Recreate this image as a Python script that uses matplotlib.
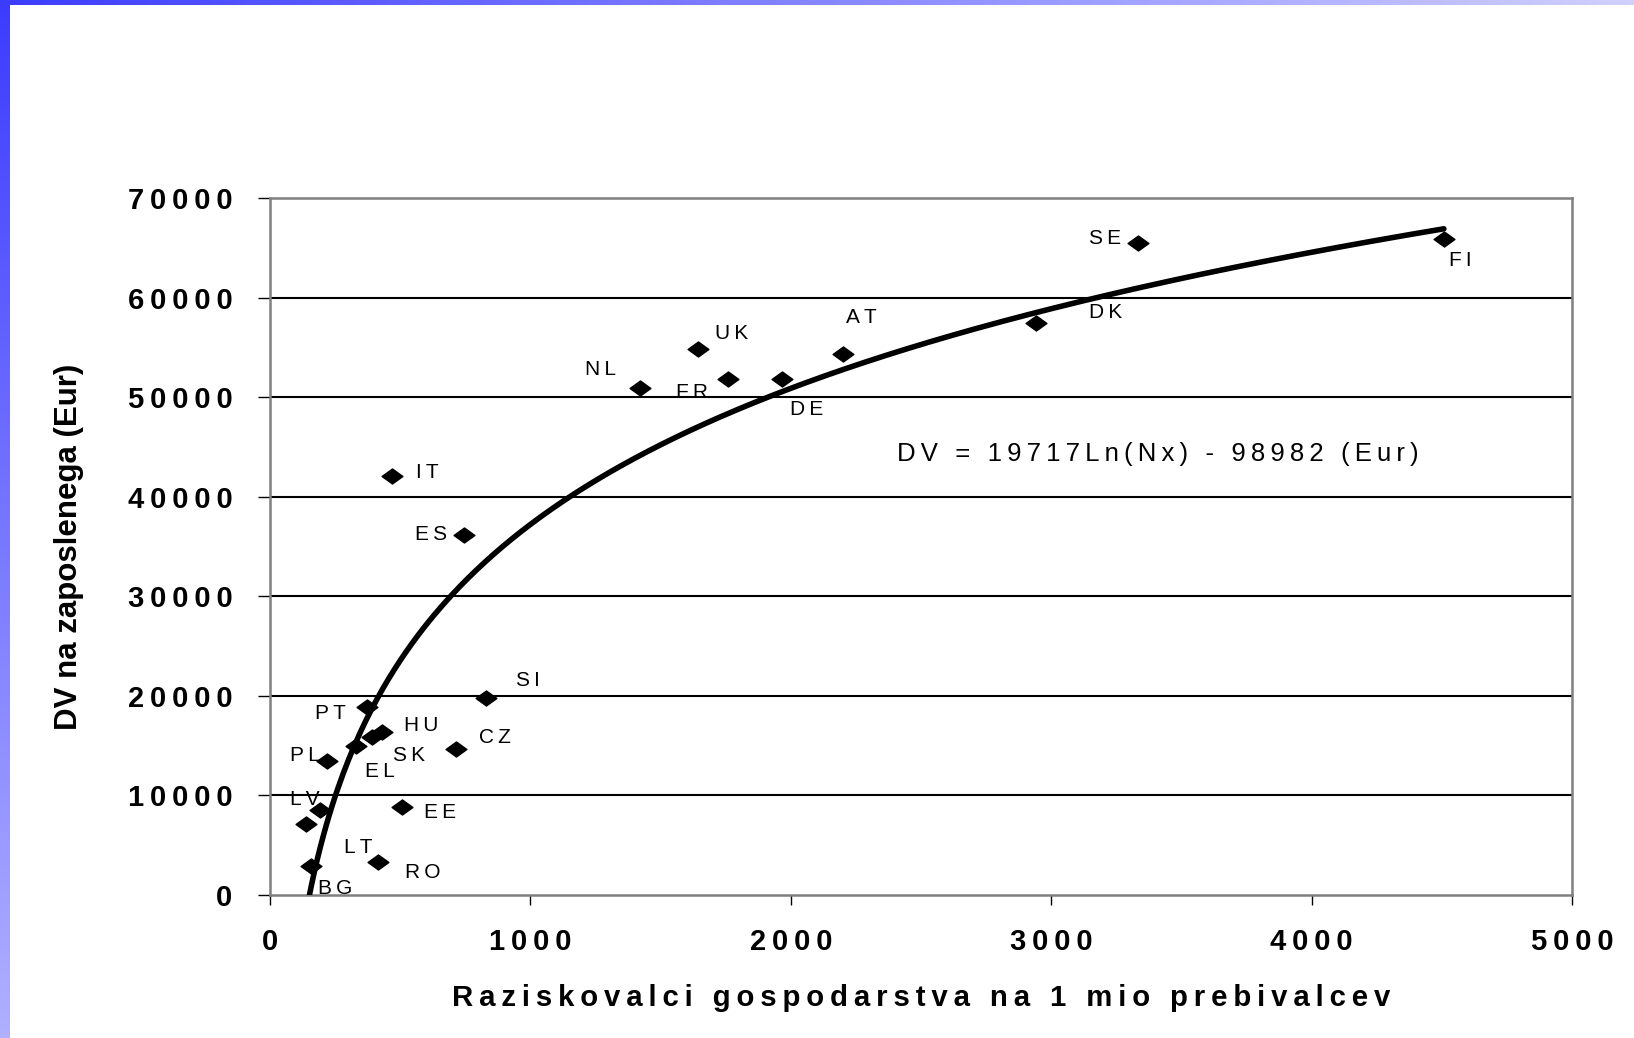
import numpy as np
import matplotlib
matplotlib.use("Agg")
import matplotlib.pyplot as plt
from matplotlib.path import Path

plt.rcParams['font.family'] = ['Liberation Sans', 'DejaVu Sans']

# ---- data ----
countries = ['SE', 'FI', 'DK', 'AT', 'UK', 'NL', 'FR', 'DE', 'IT', 'ES', 'SI',
             'PT', 'HU', 'SK', 'EL', 'CZ', 'PL', 'LV', 'LT', 'EE', 'RO', 'BG']
researchers = [3333, 4508, 2942, 2200, 1644, 1421, 1759, 1966, 469, 745, 829,
               373, 430, 392, 330, 714, 219, 192, 138, 507, 415, 157]
gva = [65480, 65880, 57450, 54330, 54830, 50920, 51820, 51820, 42080, 36150, 19780,
       18880, 16370, 15870, 14960, 14660, 13460, 8540, 7130, 8840, 3310, 2910]
trend_a = 19717
trend_b = -98982
x_ticks = [0, 1000, 2000, 3000, 4000, 5000]
y_ticks = [0, 10000, 20000, 30000, 40000, 50000, 60000, 70000]
x_label = "Raziskovalci gospodarstva na 1 mio prebivalcev"
y_label = "DV na zaposlenega (Eur)"
eq_label = "DV = 19717Ln(Nx) - 98982 (Eur)"

# label offsets (pixels, dx right, dy down)
label_offsets = {
    'SE': (-33, -5), 'FI': (16, 21), 'DK': (70, -10), 'AT': (18, -37),
    'UK': (34, -16), 'NL': (-40, -18), 'FR': (-36, 13), 'DE': (25, 30),
    'IT': (35, -4), 'ES': (-33, -1), 'SI': (42, -18), 'PT': (-37, 6),
    'HU': (39, -7), 'SK': (37, 19), 'EL': (24, 25), 'CZ': (39, -12),
    'PL': (-22, -5), 'LV': (-15, -10), 'LT': (52, 23), 'EE': (38, 6),
    'RO': (45, 10), 'BG': (24, 22),
}

TS = '\u2009'
def sp(s):
    return TS.join(s)

W, H = 1634, 1038
fig = plt.figure(figsize=(W / 100, H / 100), dpi=100)

# background gradient strips
bg = fig.add_axes([0, 0, 1, 1], zorder=-5)
bg.axis('off')
c1 = np.array([0x3c, 0x3c, 0xff]) / 255
c2 = np.array([0xd0, 0xd0, 0xff]) / 255
c3 = np.array([0xb0, 0xb0, 0xff]) / 255
t = np.linspace(0, 1, 256)
top_grad = (c1[None, :] * (1 - t[:, None]) + c2[None, :] * t[:, None])[None, :, :]
bg.imshow(top_grad, extent=(0, W, 5, 0), aspect='auto')
left_grad = (c1[None, :] * (1 - t[:, None]) + c3[None, :] * t[:, None])[:, None, :]
bg.imshow(left_grad, extent=(0, 10, H, 0), aspect='auto')
bg.set_xlim(0, W)
bg.set_ylim(H, 0)

ax = fig.add_axes([270 / W, (H - 895) / H, 1302 / W, 697 / H])
ax.set_xlim(0, 5000)
ax.set_ylim(0, 70000)

for yv in y_ticks[1:-1]:
    ax.axhline(yv, color='black', lw=1.5, zorder=1)

xs = np.linspace(min(researchers), max(researchers), 400)
ax.plot(xs, trend_a * np.log(xs) + trend_b, color='black', lw=4, zorder=3,
        solid_capstyle='round')

diamond = Path([(-1, 0), (0, 0.72), (1, 0), (0, -0.72), (-1, 0)],
               [Path.MOVETO, Path.LINETO, Path.LINETO, Path.LINETO, Path.CLOSEPOLY])
ax.plot(researchers, gva, linestyle='none', marker=diamond, markersize=15,
        color='black', zorder=4)

for c, xv, yv in zip(countries, researchers, gva):
    dx, dy = label_offsets[c]
    ax.annotate(sp(c), (xv, yv), xytext=(dx / 1.389, -dy / 1.389),
                textcoords='offset points', ha='center', va='center',
                fontsize=15, color='black', zorder=5)

ax.text(3410, 44290, sp(eq_label), ha='center', va='center', fontsize=18.5,
        color='black')

for s in ax.spines.values():
    s.set_color('#808080')
    s.set_linewidth(1.8)

ax.set_xticks(x_ticks)
ax.set_yticks(y_ticks)
ax.set_xticklabels([sp(str(v)) for v in x_ticks], fontsize=21, fontweight='bold')
ax.set_yticklabels([sp(str(v)) for v in y_ticks], fontsize=21, fontweight='bold')
ax.tick_params(axis='y', direction='out', length=9, width=1, color='black', pad=18)
ax.tick_params(axis='x', direction='out', length=7, width=1, color='black', pad=17)

ax.set_xlabel(sp(x_label), fontsize=21.2, fontweight='bold')
ax.set_ylabel(y_label, fontsize=22.5, fontweight='bold')
ax.xaxis.set_label_coords(0.5, -0.128)
ax.yaxis.set_label_coords(-0.143, 0.5)

fig.savefig('out.png', dpi=100)
